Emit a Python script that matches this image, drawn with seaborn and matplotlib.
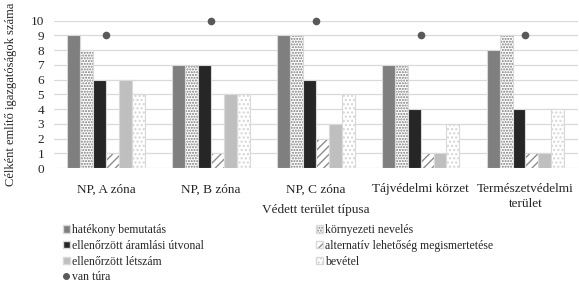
import numpy as np
import pandas as pd
import seaborn as sns
import matplotlib.pyplot as plt
from matplotlib.colors import to_rgba
from matplotlib.patches import Patch
from matplotlib.lines import Line2D

categories = ["NP, A zóna", "NP, B zóna", "NP, C zóna", "Tájvédelmi körzet", "Természetvédelmi\nterület"]
series = ["hatékony bemutatás", "környezeti nevelés", "ellenőrzött áramlási útvonal",
          "alternatív lehetőség megismertetése", "ellenőrzött létszám", "bevétel"]
hatekony = [9, 7, 9, 7, 8]
kornyezeti = [8, 7, 9, 7, 9]
aramlasi = [6, 7, 6, 4, 4]
alternativ = [1, 1, 2, 1, 1]
letszam = [6, 5, 3, 1, 1]
bevetel = [5, 5, 5, 3, 4]
van_tura = [9, 10, 10, 9, 9]

values = [hatekony, kornyezeti, aramlasi, alternativ, letszam, bevetel]
df = pd.DataFrame({
    "kat": np.repeat([categories], len(series), axis=0).ravel(),
    "sor": np.repeat(series, len(categories)),
    "ertek": np.concatenate(values),
})

sns.set_style("white")
plt.rcParams['font.family'] = ['Liberation Serif', 'DejaVu Serif']
plt.rcParams['hatch.linewidth'] = 1.0

faces = ["#7f7f7f", "white", "#262626", "white", "#bfbfbf", "white"]
hatches = [None, "......", None, "////", None, "...."]
hatch_cols = [None, "#7a7a7a", None, "#8c8c8c", None, "#d4d4d4"]

fig = plt.figure(figsize=(5.79, 2.84), dpi=100)
ax = fig.add_axes([0.093, 0.408, 0.905, 0.519])

sns.barplot(data=df, x="kat", y="ertek", hue="sor", order=categories, hue_order=series,
            width=0.74, gap=0, legend=False, ax=ax, palette=["#7f7f7f"] * 6)

for cont, fc, h, hc in zip(ax.containers, faces, hatches, hatch_cols):
    for bar in cont:
        bar.set_facecolor(fc)
        bar.set_linewidth(0.8)
        bar.set_edgecolor("#d9d9d9")
        if h:
            bar.set_hatch(h)
            bar._hatch_color = to_rgba(hc)

sns.stripplot(x=categories, y=van_tura, jitter=False, color="#595959", size=5.5,
              ax=ax, zorder=5, clip_on=False)

ax.set_ylim(0, 10)
ax.set_yticks(range(0, 11))
ax.yaxis.grid(True, color="#d9d9d9", linewidth=0.9)
ax.set_axisbelow(True)
for s in ax.spines.values():
    s.set_visible(False)
ax.tick_params(axis="both", length=0, labelsize=9.5)
ax.tick_params(axis="y", pad=7)
ax.tick_params(axis="x", pad=11)
for t in ax.get_xticklabels():
    t.set_linespacing(1.3)
ax.set_xlabel("Védett terület típusa", fontsize=9.5)
ax.xaxis.set_label_coords(0.5, -0.24)
ax.set_ylabel("Célként említő igazgatóságok száma", fontsize=9, labelpad=10)

handles = [Patch(facecolor=faces[i], edgecolor="#d9d9d9", hatch=hatches[i]) for i in range(6)]
for i in (1, 3, 5):
    handles[i]._hatch_color = to_rgba(hatch_cols[i])
dot = Line2D([], [], linestyle="none", marker="o", color="#595959", markersize=4)
order = [0, 2, 4, None, 1, 3, 5]
labels_l = [series[i] if i is not None else "van túra" for i in order]
handles_l = [handles[i] if i is not None else dot for i in order]
fig.legend(handles_l, labels_l, ncol=2, loc="upper left", bbox_to_anchor=(0.108, 0.211),
           frameon=False, fontsize=8.5, handlelength=0.6, handleheight=0.6,
           handletextpad=0.2, columnspacing=9.5, labelspacing=0.32, borderaxespad=0,
           borderpad=0)

fig.savefig("out.png", dpi=100)
